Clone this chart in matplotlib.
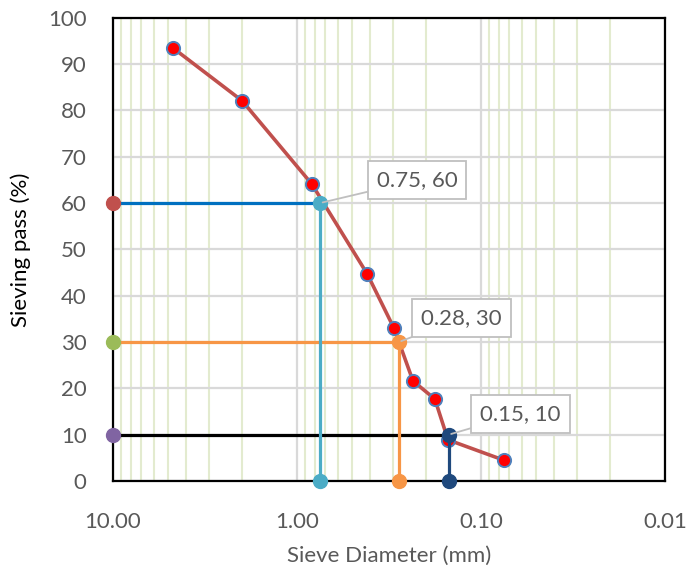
import numpy as np
import matplotlib.pyplot as plt
from matplotlib.ticker import FixedLocator, LogLocator, NullFormatter

plt.rcParams['font.family'] = ['Lato', 'DejaVu Sans']

# grading curve
sieve_mm = [4.73, 1.99, 0.83, 0.415, 0.297, 0.234, 0.178, 0.151, 0.075]
passing = [93.5, 82.1, 64.1, 44.7, 33.0, 21.6, 17.7, 8.9, 4.5]

# characteristic diameters D60, D30, D10
d_vals = [0.75, 0.28, 0.15]
p_vals = [60, 30, 10]
h_line_colors = ['#0070c0', '#f79646', '#000000']
h_marker_colors = ['#c0504d', '#9bbb59', '#8064a2']
v_colors = ['#4bacc6', '#f79646', '#1f497d']
label_offsets = [(97, 23), (63, 24), (72, 21)]

fig = plt.figure(figsize=(6.89, 5.72), dpi=100)
ax = fig.add_axes([0.164, 0.159, 0.801, 0.810])

ax.set_xscale('log')
ax.set_xlim(10, 0.01)
ax.set_ylim(0, 100)

ax.plot(sieve_mm, passing, color='#c0504d', lw=2.6, marker='o', ms=9.5,
        mfc='#ff0000', mec='#4f81bd', mew=1.4, zorder=4)

for d, p, hc, hm, vc in zip(d_vals, p_vals, h_line_colors, h_marker_colors, v_colors):
    ax.plot([10, d], [p, p], color=hc, lw=2.3, zorder=5, clip_on=False)
    ax.plot([10], [p], 'o', color=hm, ms=10, zorder=6, clip_on=False)
    ax.plot([d, d], [p, 0], color=vc, lw=2.3, marker='o', ms=10,
            zorder=6, clip_on=False)

for d, p, off in zip(d_vals, p_vals, label_offsets):
    ax.annotate(f'{d}, {p}', xy=(d, p), xytext=off, textcoords='offset pixels',
                ha='center', va='center', fontsize=16, color='#595959',
                bbox=dict(boxstyle='square,pad=0.4', fc='white', ec='#bfbfbf', lw=1.3),
                arrowprops=dict(arrowstyle='-', color='#bfbfbf', lw=1.3,
                                shrinkA=0, shrinkB=2),
                zorder=7)

ax.xaxis.set_major_locator(FixedLocator([10, 1, 0.1, 0.01]))
ax.xaxis.set_minor_locator(LogLocator(base=10, subs=np.arange(2, 10)))
ax.xaxis.set_minor_formatter(NullFormatter())
ax.set_xticks([10, 1, 0.1, 0.01])
ax.set_xticklabels(['10.00', '1.00', '0.10', '0.01'])
ax.set_yticks(np.arange(0, 101, 10))

ax.grid(which='minor', axis='x', color='#e3ebcf', lw=1.5, zorder=0)
ax.grid(which='major', axis='x', color='#d9d9d9', lw=1.6, zorder=1)
ax.grid(which='major', axis='y', color='#d9d9d9', lw=1.6, zorder=1)
ax.set_axisbelow(True)

ax.tick_params(axis='both', which='both', length=0, labelsize=16, labelcolor='#595959')
ax.tick_params(axis='x', pad=22)
ax.tick_params(axis='y', pad=19)

for s in ax.spines.values():
    s.set_color('black')
    s.set_linewidth(1.6)

ax.set_xlabel('Sieve Diameter (mm)', fontsize=16, color='#595959', labelpad=10)
ax.set_ylabel('Sieving pass (%)', fontsize=16, color='black', labelpad=12)

fig.savefig('out.png', dpi=100)
